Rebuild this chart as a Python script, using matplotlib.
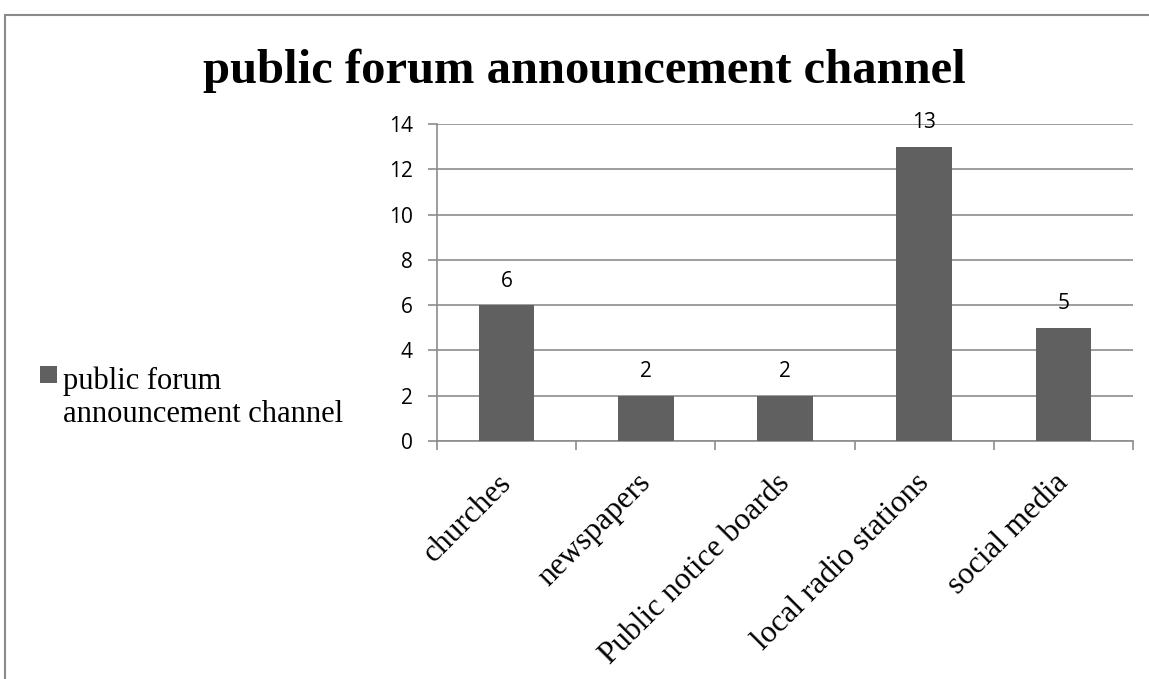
import matplotlib
matplotlib.use("Agg")
import matplotlib.pyplot as plt
from matplotlib.patches import Rectangle
from matplotlib.transforms import ScaledTranslation
import numpy as np

# chart data
categories = ["churches", "newspapers", "Public notice boards", "local radio stations", "social media"]
values = [6, 2, 2, 13, 5]
series_name = "public forum announcement channel"
title = "public forum announcement channel"

BAR_COLOR = "#606060"
GRID_COLOR = "#8c8c8c"

fig = plt.figure(figsize=(11.49, 6.79), dpi=100)
ax = fig.add_axes([0.3803, 0.3505, 0.6058, 0.4669])

# outer chart border (cut off at right and bottom like the source)
fig.patches.append(Rectangle((0.0044, -0.2), 1.3, 0.978 + 0.2, transform=fig.transFigure,
                             fill=False, edgecolor="#8a8a8a", linewidth=1.5))

x = np.arange(len(categories))
bars = ax.bar(x, values, width=0.4, color=BAR_COLOR, label=series_name, zorder=3)
for b, v in zip(bars, values):
    ax.text(b.get_x() + b.get_width() / 2, v + 0.6, str(v), ha="center", va="bottom",
            fontsize=15, family="Open Sans", color="black")

ax.set_xlim(-0.5, len(categories) - 0.5)
ax.set_ylim(0, 14)
ax.set_yticks(range(0, 15, 2))
ax.yaxis.grid(True, color=GRID_COLOR, linewidth=1.2, zorder=0)
ax.set_axisbelow(True)

for s in ["top", "right"]:
    ax.spines[s].set_visible(False)
for s in ["left", "bottom"]:
    ax.spines[s].set_color(GRID_COLOR)
    ax.spines[s].set_linewidth(1.2)

ax.tick_params(axis="y", length=6.5, width=1.2, color=GRID_COLOR, labelsize=15, pad=11)
for lab in ax.get_yticklabels():
    lab.set_family("Open Sans")

# category ticks at boundaries, labels at centers
ax.set_xticks(np.arange(-0.5, len(categories), 1.0))
ax.set_xticklabels([])
ax.tick_params(axis="x", length=6.5, width=1.2, color=GRID_COLOR, direction="out")
ax.set_xticks(x, minor=True)
ax.set_xticklabels(categories, minor=True, rotation=45, ha="right", va="top",
                   rotation_mode="anchor", fontsize=22.5, family="Liberation Serif")
ax.tick_params(axis="x", which="minor", length=0, pad=16)
shift = ScaledTranslation(-10 / 100, -5 / 100, fig.dpi_scale_trans)
for lab in ax.get_xticklabels(minor=True):
    lab.set_transform(lab.get_transform() + shift)

fig.text(0.509, 0.895, title, ha="center", va="center", fontsize=35,
         fontweight="bold", family="Liberation Serif")

# legend: square marker beside a two-line label
fig.patches.append(Rectangle((40 / 1149, 1 - 383 / 679), 17 / 1149, 17 / 679,
                             transform=fig.transFigure, facecolor=BAR_COLOR, edgecolor="none"))
fig.text(63 / 1149, 1 - 422 / 679, series_name.replace("forum ", "forum\n"),
         ha="left", va="baseline", fontsize=22, family="Liberation Serif",
         linespacing=1.2)

fig.savefig("out.png", dpi=100)
